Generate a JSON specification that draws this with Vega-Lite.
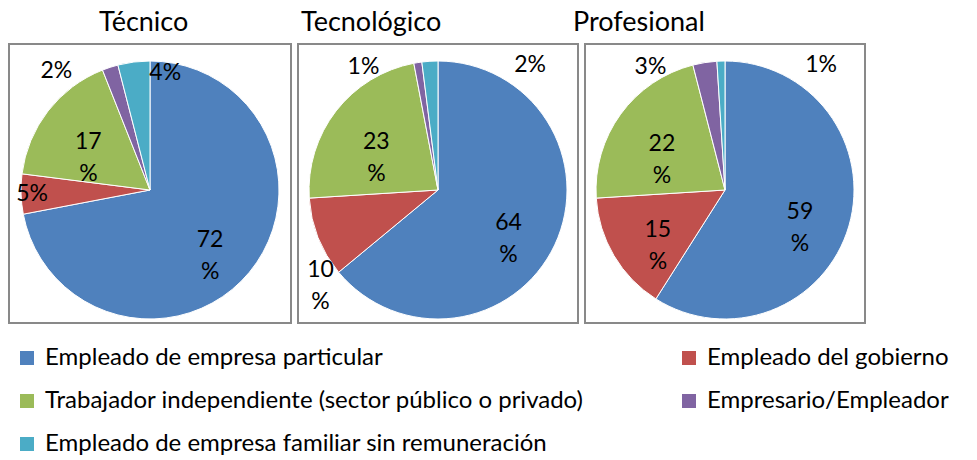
{
  "$schema": "https://vega.github.io/schema/vega-lite/v6.json",
  "padding": {"left": 8, "top": 8, "right": 0, "bottom": 0},
  "autosize": {"type": "pad"},
  "bounds": "flush",
  "spacing": 7,
  "config": {
    "view": {"stroke": "#898989", "strokeWidth": 2},
    "font": "Lato",
    "title": {"font": "Lato", "fontSize": 27, "fontWeight": "normal", "color": "#000000", "anchor": "start", "baseline": "alphabetic", "offset": 7}
  },
  "data": {
    "values": [
      {"nivel": "Técnico", "k": 1, "cat": "Empleado de empresa particular", "v": 72},
      {"nivel": "Técnico", "k": 2, "cat": "Empleado del gobierno", "v": 5},
      {"nivel": "Técnico", "k": 3, "cat": "Trabajador independiente (sector público o privado)", "v": 17},
      {"nivel": "Técnico", "k": 4, "cat": "Empresario/Empleador", "v": 2},
      {"nivel": "Técnico", "k": 5, "cat": "Empleado de empresa familiar sin remuneración", "v": 4},
      {"nivel": "Tecnológico", "k": 1, "cat": "Empleado de empresa particular", "v": 64},
      {"nivel": "Tecnológico", "k": 2, "cat": "Empleado del gobierno", "v": 10},
      {"nivel": "Tecnológico", "k": 3, "cat": "Trabajador independiente (sector público o privado)", "v": 23},
      {"nivel": "Tecnológico", "k": 4, "cat": "Empresario/Empleador", "v": 1},
      {"nivel": "Tecnológico", "k": 5, "cat": "Empleado de empresa familiar sin remuneración", "v": 2},
      {"nivel": "Profesional", "k": 1, "cat": "Empleado de empresa particular", "v": 59},
      {"nivel": "Profesional", "k": 2, "cat": "Empleado del gobierno", "v": 15},
      {"nivel": "Profesional", "k": 3, "cat": "Trabajador independiente (sector público o privado)", "v": 22},
      {"nivel": "Profesional", "k": 4, "cat": "Empresario/Empleador", "v": 3},
      {"nivel": "Profesional", "k": 5, "cat": "Empleado de empresa familiar sin remuneración", "v": 1}
    ]
  },
  "resolve": {"scale": {"color": "shared"}},
  "hconcat": [
    {
      "width": 282, "height": 279,
      "view": {"stroke": "#898989", "strokeWidth": 2},
      "title": {"text": "Técnico", "dx": 90},
      "transform": [
        {"filter": "datum.nivel === 'Técnico'"},
        {"stack": "v", "groupby": [], "sort": [{"field": "k", "order": "ascending"}], "as": ["s0", "s1"]},
        {"calculate": "(datum.s0 + datum.s1) / 2", "as": "m"},
        {"calculate": "datum.v >= 10 ? datum.v + '\\n%' : datum.v + '%'", "as": "lbl"}
      ],
      "layer": [
        {
          "mark": {"type": "arc", "outerRadius": 129, "stroke": "#ffffff", "strokeWidth": 1, "y": {"expr": "height/2 + 6.5"}},
          "encoding": {
            "theta": {"field": "s0", "type": "quantitative", "stack": null, "scale": {"domain": [0, 100]}},
            "theta2": {"field": "s1"},
            "color": {"field": "cat", "type": "nominal", "sort": null,
              "scale": {"domain": ["Empleado de empresa particular", "Empleado del gobierno", "Trabajador independiente (sector público o privado)", "Empresario/Empleador", "Empleado de empresa familiar sin remuneración"],
                        "range": ["#4F81BD", "#C0504D", "#9BBB59", "#8064A2", "#4BACC6"]},
              "legend": {"title": null, "orient": "none", "legendX": 6, "legendY": 302, "columns": 2, "direction": "horizontal", "symbolType": "square", "symbolSize": 196, "symbolStrokeWidth": 0, "labelFont": "Lato", "labelFontSize": 24, "labelColor": "#000000", "labelLimit": 1000, "labelOffset": 6, "rowPadding": 19, "columnPadding": 93}}
          }
        },
        {
          "transform": [{"filter": "datum.v >= 15"}],
          "mark": {"type": "text", "radius": 78, "fontSize": 23, "lineBreak": "\n", "lineHeight": 32, "color": "#000000", "y": {"expr": "height/2 + 6.5"}},
          "encoding": {"theta": {"field": "m", "type": "quantitative", "stack": null, "scale": {"domain": [0, 100]}}, "text": {"field": "lbl"}}
        },
        {
          "transform": [{"filter": "datum.v >= 10 && datum.v < 15"}],
          "mark": {"type": "text", "radius": 150, "dx": 22, "dy": 25, "fontSize": 23, "lineBreak": "\n", "lineHeight": 32, "color": "#000000", "y": {"expr": "height/2 + 6.5"}},
          "encoding": {"theta": {"field": "m", "type": "quantitative", "stack": null, "scale": {"domain": [0, 100]}}, "text": {"field": "lbl"}}
        },
        {
          "transform": [{"filter": "datum.v >= 4 && datum.v < 10 && datum.k !== 5"}],
          "mark": {"type": "text", "radius": 118, "fontSize": 23, "color": "#000000", "y": {"expr": "height/2 + 6.5"}},
          "encoding": {"theta": {"field": "m", "type": "quantitative", "stack": null, "scale": {"domain": [0, 100]}}, "text": {"field": "lbl"}}
        },
        {
          "transform": [{"filter": "datum.v >= 4 && datum.v < 10 && datum.k === 5"}],
          "mark": {"type": "text", "radius": 118, "dx": 30, "fontSize": 23, "color": "#000000", "y": {"expr": "height/2 + 6.5"}},
          "encoding": {"theta": {"field": "m", "type": "quantitative", "stack": null, "scale": {"domain": [0, 100]}}, "text": {"field": "lbl"}}
        },
        {
          "transform": [{"filter": "datum.v < 4 && datum.k === 4"}],
          "mark": {"type": "text", "radius": 125, "dx": -55, "fontSize": 23, "color": "#000000", "y": {"expr": "height/2 + 6.5"}},
          "encoding": {"theta": {"field": "m", "type": "quantitative", "stack": null, "scale": {"domain": [0, 100]}}, "text": {"field": "lbl"}}
        },
        {
          "transform": [{"filter": "datum.v < 4 && datum.k === 5"}],
          "mark": {"type": "text", "radius": 125, "dx": 100, "fontSize": 23, "color": "#000000", "y": {"expr": "height/2 + 6.5"}},
          "encoding": {"theta": {"field": "m", "type": "quantitative", "stack": null, "scale": {"domain": [0, 100]}}, "text": {"field": "lbl"}}
        }
      ]
    },
    {
      "width": 280, "height": 279,
      "view": {"stroke": "#898989", "strokeWidth": 2},
      "title": {"text": "Tecnológico", "dx": 3},
      "transform": [
        {"filter": "datum.nivel === 'Tecnológico'"},
        {"stack": "v", "groupby": [], "sort": [{"field": "k", "order": "ascending"}], "as": ["s0", "s1"]},
        {"calculate": "(datum.s0 + datum.s1) / 2", "as": "m"},
        {"calculate": "datum.v >= 10 ? datum.v + '\\n%' : datum.v + '%'", "as": "lbl"}
      ],
      "layer": [
        {
          "mark": {"type": "arc", "outerRadius": 129, "stroke": "#ffffff", "strokeWidth": 1, "y": {"expr": "height/2 + 6.5"}},
          "encoding": {
            "theta": {"field": "s0", "type": "quantitative", "stack": null, "scale": {"domain": [0, 100]}},
            "theta2": {"field": "s1"},
            "color": {"field": "cat", "type": "nominal", "sort": null}
          }
        },
        {
          "transform": [{"filter": "datum.v >= 15"}],
          "mark": {"type": "text", "radius": 78, "fontSize": 23, "lineBreak": "\n", "lineHeight": 32, "color": "#000000", "y": {"expr": "height/2 + 6.5"}},
          "encoding": {"theta": {"field": "m", "type": "quantitative", "stack": null, "scale": {"domain": [0, 100]}}, "text": {"field": "lbl"}}
        },
        {
          "transform": [{"filter": "datum.v >= 10 && datum.v < 15"}],
          "mark": {"type": "text", "radius": 150, "dx": 22, "dy": 25, "fontSize": 23, "lineBreak": "\n", "lineHeight": 32, "color": "#000000", "y": {"expr": "height/2 + 6.5"}},
          "encoding": {"theta": {"field": "m", "type": "quantitative", "stack": null, "scale": {"domain": [0, 100]}}, "text": {"field": "lbl"}}
        },
        {
          "transform": [{"filter": "datum.v >= 4 && datum.v < 10 && datum.k !== 5"}],
          "mark": {"type": "text", "radius": 118, "fontSize": 23, "color": "#000000", "y": {"expr": "height/2 + 6.5"}},
          "encoding": {"theta": {"field": "m", "type": "quantitative", "stack": null, "scale": {"domain": [0, 100]}}, "text": {"field": "lbl"}}
        },
        {
          "transform": [{"filter": "datum.v >= 4 && datum.v < 10 && datum.k === 5"}],
          "mark": {"type": "text", "radius": 118, "dx": 30, "fontSize": 23, "color": "#000000", "y": {"expr": "height/2 + 6.5"}},
          "encoding": {"theta": {"field": "m", "type": "quantitative", "stack": null, "scale": {"domain": [0, 100]}}, "text": {"field": "lbl"}}
        },
        {
          "transform": [{"filter": "datum.v < 4 && datum.k === 4"}],
          "mark": {"type": "text", "radius": 125, "dx": -55, "fontSize": 23, "color": "#000000", "y": {"expr": "height/2 + 6.5"}},
          "encoding": {"theta": {"field": "m", "type": "quantitative", "stack": null, "scale": {"domain": [0, 100]}}, "text": {"field": "lbl"}}
        },
        {
          "transform": [{"filter": "datum.v < 4 && datum.k === 5"}],
          "mark": {"type": "text", "radius": 125, "dx": 100, "fontSize": 23, "color": "#000000", "y": {"expr": "height/2 + 6.5"}},
          "encoding": {"theta": {"field": "m", "type": "quantitative", "stack": null, "scale": {"domain": [0, 100]}}, "text": {"field": "lbl"}}
        }
      ]
    },
    {
      "width": 280, "height": 279,
      "view": {"stroke": "#898989", "strokeWidth": 2},
      "title": {"text": "Profesional", "dx": -12},
      "transform": [
        {"filter": "datum.nivel === 'Profesional'"},
        {"stack": "v", "groupby": [], "sort": [{"field": "k", "order": "ascending"}], "as": ["s0", "s1"]},
        {"calculate": "(datum.s0 + datum.s1) / 2", "as": "m"},
        {"calculate": "datum.v >= 10 ? datum.v + '\\n%' : datum.v + '%'", "as": "lbl"}
      ],
      "layer": [
        {
          "mark": {"type": "arc", "outerRadius": 129, "stroke": "#ffffff", "strokeWidth": 1, "y": {"expr": "height/2 + 6.5"}},
          "encoding": {
            "theta": {"field": "s0", "type": "quantitative", "stack": null, "scale": {"domain": [0, 100]}},
            "theta2": {"field": "s1"},
            "color": {"field": "cat", "type": "nominal", "sort": null}
          }
        },
        {
          "transform": [{"filter": "datum.v >= 15"}],
          "mark": {"type": "text", "radius": 78, "fontSize": 23, "lineBreak": "\n", "lineHeight": 32, "color": "#000000", "y": {"expr": "height/2 + 6.5"}},
          "encoding": {"theta": {"field": "m", "type": "quantitative", "stack": null, "scale": {"domain": [0, 100]}}, "text": {"field": "lbl"}}
        },
        {
          "transform": [{"filter": "datum.v >= 10 && datum.v < 15"}],
          "mark": {"type": "text", "radius": 150, "dx": 22, "dy": 25, "fontSize": 23, "lineBreak": "\n", "lineHeight": 32, "color": "#000000", "y": {"expr": "height/2 + 6.5"}},
          "encoding": {"theta": {"field": "m", "type": "quantitative", "stack": null, "scale": {"domain": [0, 100]}}, "text": {"field": "lbl"}}
        },
        {
          "transform": [{"filter": "datum.v >= 4 && datum.v < 10 && datum.k !== 5"}],
          "mark": {"type": "text", "radius": 118, "fontSize": 23, "color": "#000000", "y": {"expr": "height/2 + 6.5"}},
          "encoding": {"theta": {"field": "m", "type": "quantitative", "stack": null, "scale": {"domain": [0, 100]}}, "text": {"field": "lbl"}}
        },
        {
          "transform": [{"filter": "datum.v >= 4 && datum.v < 10 && datum.k === 5"}],
          "mark": {"type": "text", "radius": 118, "dx": 30, "fontSize": 23, "color": "#000000", "y": {"expr": "height/2 + 6.5"}},
          "encoding": {"theta": {"field": "m", "type": "quantitative", "stack": null, "scale": {"domain": [0, 100]}}, "text": {"field": "lbl"}}
        },
        {
          "transform": [{"filter": "datum.v < 4 && datum.k === 4"}],
          "mark": {"type": "text", "radius": 125, "dx": -55, "fontSize": 23, "color": "#000000", "y": {"expr": "height/2 + 6.5"}},
          "encoding": {"theta": {"field": "m", "type": "quantitative", "stack": null, "scale": {"domain": [0, 100]}}, "text": {"field": "lbl"}}
        },
        {
          "transform": [{"filter": "datum.v < 4 && datum.k === 5"}],
          "mark": {"type": "text", "radius": 125, "dx": 100, "fontSize": 23, "color": "#000000", "y": {"expr": "height/2 + 6.5"}},
          "encoding": {"theta": {"field": "m", "type": "quantitative", "stack": null, "scale": {"domain": [0, 100]}}, "text": {"field": "lbl"}}
        }
      ]
    }
  ]
}
